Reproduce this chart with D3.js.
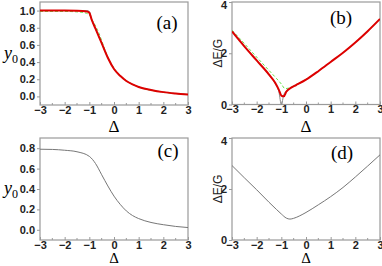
<!DOCTYPE html>
<html><head><meta charset="utf-8">
<script src="https://cdn.jsdelivr.net/npm/d3@7"></script>
<style>body{margin:0;background:#fff}svg{display:block}</style>
</head><body>
<svg id="c" width="382" height="266"></svg>
<script>
// ---- data ----
const xTicks = [-3,-2,-1,0,1,2,3];
const yTicksA = [0,0.2,0.4,0.6,0.8,1.0];
const yTicksC = [0,0.2,0.4,0.6,0.8];
const yTicksE = [0,2,4];

const aX     = [-3,-2,-1.5,-1.1,-1,-0.9,-0.75,-0.5,-0.25,0,0.25,0.5,0.75,1,1.5,2,2.5,3];
const aExact = [1.0,1.0,1.0,1.0,0.99,0.89,0.79,0.62,0.45,0.32,0.24,0.18,0.14,0.11,0.075,0.05,0.034,0.022];
const aRed   = [1.0,1.0,0.998,0.99,0.975,0.89,0.79,0.62,0.45,0.32,0.24,0.18,0.14,0.11,0.075,0.05,0.034,0.022];
const aGreenX= [-3,-2,-1.5,-1.2,-1,-0.9,-0.75,-0.6,-0.5,-0.25,0,0.5,1,2,3];
const aGreen = [0.99,0.99,0.985,0.975,0.95,0.9,0.82,0.73,0.65,0.46,0.33,0.185,0.11,0.05,0.022];

const bX     = [-3,-2.5,-2,-1.5,-1.25,-1.1,-1,-0.9,-0.8,-0.6,-0.4,0,0.5,1,1.5,2,2.5,3];
const bExact = [2.85,2.27,1.72,1.15,0.82,0.5,0.0,0.38,0.52,0.66,0.76,0.97,1.3,1.66,2.02,2.42,2.86,3.34];
const bRed   = [2.85,2.27,1.72,1.17,0.85,0.57,0.35,0.32,0.5,0.66,0.76,0.97,1.3,1.66,2.02,2.42,2.86,3.34];
const bGreenX= [-3,-2.5,-2,-1.5,-1.2,-1,-0.85,-0.7,-0.5,-0.3,0,0.5,1,2,3];
const bGreen = [2.9,2.38,1.85,1.33,1.02,0.8,0.62,0.64,0.72,0.82,0.98,1.3,1.66,2.42,3.34];

const cX = [-3,-2.5,-2,-1.5,-1,-0.75,-0.5,-0.25,0,0.25,0.5,0.75,1,1.5,2,2.5,3];
const cY = [0.79,0.788,0.78,0.765,0.72,0.65,0.54,0.43,0.33,0.25,0.185,0.14,0.11,0.072,0.05,0.033,0.022];

const dX = [-3,-2.5,-2,-1.5,-1.2,-1,-0.8,-0.65,-0.5,-0.25,0,0.5,1,1.5,2,2.5,3];
const dY = [2.92,2.44,1.97,1.48,1.2,1.02,0.86,0.82,0.85,0.95,1.08,1.38,1.7,2.06,2.47,2.9,3.34];

const labels = ["(a)","(b)","(c)","(d)"];

// ---- drawing ----
const svg = d3.select("#c");
const frameCol = "#9a9a9a";
const sans = "Liberation Sans, Arial, sans-serif";
const serif = "Liberation Serif, Times New Roman, serif";

function panel(opt){
  const {x0,x1,y0,y1,ydom,yticks,yfmt,label,labX,labY,ytitle,dOff,dSize} = opt;
  const g = svg.append("g");
  const x = d3.scaleLinear().domain([-3,3]).range([x0,x1]);
  const y = d3.scaleLinear().domain(ydom).range([y1,y0]);
  g.append("rect").attr("x",x0).attr("y",y0).attr("width",x1-x0).attr("height",y1-y0)
    .attr("fill","none").attr("stroke",frameCol).attr("stroke-width",1.2);
  const xa = g.append("g").attr("transform",`translate(0,${y1})`)
    .call(d3.axisBottom(x).tickValues(xTicks).tickSize(3).tickSizeInner(-3).tickFormat(d3.format("d")));
  xa.select(".domain").remove();
  xa.selectAll(".tick line").attr("stroke",frameCol);
  xa.selectAll("text").attr("dy","0.5em").attr("y",3).attr("font-family",sans)
    .attr("font-size",11).attr("font-weight","bold").attr("fill","#222");
  g.selectAll(".mx").data(d3.range(-2.5,3,1)).enter().append("line")
    .attr("x1",d=>x(d)).attr("x2",d=>x(d)).attr("y1",y1).attr("y2",y1-2)
    .attr("stroke",frameCol);
  const ya = g.append("g").attr("transform",`translate(${x0},0)`)
    .call(d3.axisLeft(y).tickValues(yticks).tickSize(3).tickFormat(yfmt));
  ya.select(".domain").remove();
  ya.selectAll(".tick line").attr("stroke",frameCol);
  ya.selectAll("text").attr("x",-5).attr("font-family",sans)
    .attr("font-size",11).attr("font-weight","bold").attr("fill","#222")
    .attr("dy",(d)=> (y(d) < y0+4 ? "0.6em" : "0.32em"));
  g.append("text").attr("x",(x0+x1)/2).attr("y",y1+dOff).attr("text-anchor","middle")
    .attr("font-family",serif).attr("font-size",dSize).text("Δ");
  if(ytitle==="y0"){
    const t = g.append("text").attr("x",4).attr("y",(y0+y1)/2+5)
      .attr("font-family",serif).attr("font-size",18);
    t.append("tspan").attr("font-style","italic").text("y");
    t.append("tspan").attr("font-size",12).attr("dy",4).text("0");
  } else {
    g.append("text").attr("transform",`translate(${x0-10},${(y0+y1)/2}) rotate(-90)`)
      .attr("text-anchor","middle").attr("font-family",sans)
      .attr("font-size",12).attr("fill","#222").text("ΔE/G");
  }
  g.append("text").attr("x",labX).attr("y",labY).attr("text-anchor","middle")
    .attr("font-family",serif).attr("font-size",19).text(label);
  const clip = "clip"+label.replace(/\W/g,"");
  svg.append("clipPath").attr("id",clip).append("rect")
    .attr("x",x0).attr("y",y0).attr("width",x1-x0).attr("height",y1-y0);
  const lg = g.append("g").attr("clip-path",`url(#${clip})`);
  return {x,y,lg};
}

function line(p, xs, ys, stroke, w, dash){
  const l = d3.line().x((d,i)=>p.x(xs[i])).y(d=>p.y(d)).curve(d3.curveMonotoneX);
  p.lg.append("path").attr("d",l(ys)).attr("fill","none").attr("stroke",stroke)
    .attr("stroke-width",w).attr("stroke-dasharray",dash||null);
}

const f1 = d3.format(".1f");
const pa = panel({x0:40,x1:188,y0:2,y1:105,ydom:[-0.1,1.1],yticks:yTicksA,yfmt:f1,label:labels[0],labX:167,labY:29,ytitle:"y0",dOff:27,dSize:17});
line(pa,aX,aExact,"#888",1);
line(pa,aGreenX,aGreen,"#66e04a",1,"3,2");
line(pa,aX,aRed,"#dd0000",2);

const pb = panel({x0:232,x1:380,y0:2,y1:104.5,ydom:[0,4],yticks:yTicksE,yfmt:d3.format("d"),label:labels[1],labX:341,labY:24,ytitle:"E",dOff:27,dSize:17});
line(pb,bX,bExact,"#888",1);
line(pb,bGreenX,bGreen,"#66e04a",1,"3,2");
line(pb,bX,bRed,"#dd0000",2);

const pc = panel({x0:40,x1:188,y0:138,y1:240,ydom:[-0.1,0.9],yticks:yTicksC,yfmt:f1,label:labels[2],labX:168,labY:157,ytitle:"y0",dOff:22.5,dSize:15});
line(pc,cX,cY,"#777",1);

const pd = panel({x0:232,x1:380,y0:138,y1:240,ydom:[0,4],yticks:yTicksE,yfmt:d3.format("d"),label:labels[3],labX:342,labY:159,ytitle:"E",dOff:22.5,dSize:15});
line(pd,dX,dY,"#777",1);
</script>
</body></html>
